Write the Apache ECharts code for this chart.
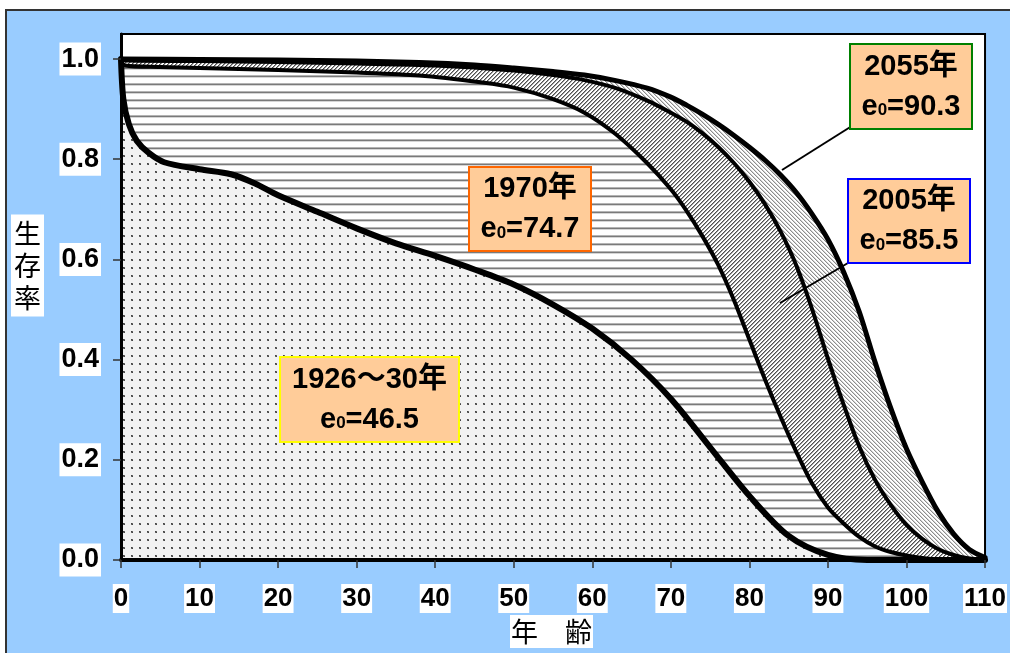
<!DOCTYPE html>
<html>
<head>
<meta charset="utf-8">
<script src="https://cdn.jsdelivr.net/npm/echarts@6/dist/echarts.min.js"></script>
<style>
  html, body { margin: 0; padding: 0; background: #fff; }
  #chart { width: 1010px; height: 653px; }
</style>
</head>
<body>
<div id="chart"></div>
<script>
// Survival curves (生存率 by 年齢) for four periods
const ages1926 = [0, 0.3, 1, 2, 3.5, 5.5, 10, 14, 17, 20, 25, 30, 35, 40, 45, 50, 55, 60, 65, 70, 75, 80, 85, 90, 95, 100, 110];
const surv1926 = [1.0, 0.92, 0.87, 0.837, 0.813, 0.794, 0.78, 0.77, 0.752, 0.728, 0.695, 0.662, 0.632, 0.607, 0.58, 0.55, 0.51, 0.462, 0.40, 0.322, 0.225, 0.128, 0.048, 0.01, 0.0, 0.0, 0.0];

const ages1970 = [0, 0.5, 5, 10, 20, 30, 38, 46, 50, 55, 59, 63, 67, 70, 72, 74, 76, 78, 80, 82, 84, 86, 88, 90, 92, 94, 96, 98, 100, 102, 105, 110];
const surv1970 = [1.0, 0.987, 0.984, 0.982, 0.978, 0.973, 0.967, 0.953, 0.943, 0.92, 0.893, 0.85, 0.792, 0.74, 0.697, 0.647, 0.59, 0.52, 0.44, 0.36, 0.285, 0.215, 0.152, 0.105, 0.073, 0.046, 0.027, 0.016, 0.009, 0.004, 0.0, 0.0];

const ages2005 = [0, 1, 10, 20, 30, 40, 50, 55, 59, 63, 67, 70, 72, 74, 76, 78, 80, 82, 84, 86, 88, 90, 92, 94, 96, 98, 100, 102, 104, 106, 108, 110];
const surv2005 = [1.0, 0.997, 0.996, 0.994, 0.991, 0.987, 0.977, 0.968, 0.958, 0.942, 0.917, 0.893, 0.875, 0.852, 0.825, 0.793, 0.755, 0.71, 0.655, 0.587, 0.5, 0.402, 0.31, 0.226, 0.16, 0.11, 0.07, 0.042, 0.022, 0.01, 0.003, 0.0];

const ages2055 = [0, 10, 20, 30, 38, 45, 50, 55, 59, 63, 67, 70, 72, 74, 76, 78, 80, 82, 84, 86, 88, 90, 92, 94, 96, 98, 100, 102, 104, 106, 108, 110];
const surv2055 = [1.0, 0.999, 0.998, 0.996, 0.993, 0.988, 0.982, 0.975, 0.968, 0.957, 0.942, 0.924, 0.908, 0.89, 0.87, 0.848, 0.824, 0.798, 0.768, 0.733, 0.69, 0.64, 0.575, 0.495, 0.395, 0.303, 0.222, 0.156, 0.097, 0.052, 0.021, 0.005];

// Period labels and life expectancy at birth (e0)
const periodNames = ['1926～30年', '1970年', '2005年', '2055年'];
const lifeExpectancy = ['46.5', '74.7', '85.5', '90.3'];

// Axis ticks
const xTickValues = [0, 10, 20, 30, 40, 50, 60, 70, 80, 90, 100, 110];
const yTickValues = [0, 0.2, 0.4, 0.6, 0.8, 1.0];

const LATIN = '"Liberation Sans", Arial, "Noto Sans CJK JP", sans-serif';
const CJK = '"Noto Sans CJK JP", sans-serif';

// ---- fill patterns ----
function tile(w, h, draw) {
  const c = document.createElement('canvas');
  c.width = w; c.height = h;
  draw(c.getContext('2d'), w, h);
  return c;
}
const dotPattern = tile(8, 8, (ctx, w, h) => {
  ctx.fillStyle = '#f2f2f2'; ctx.fillRect(0, 0, w, h);
  ctx.fillStyle = '#b0b0b0'; ctx.fillRect(3, 3, 2, 2);
  ctx.fillStyle = '#444'; ctx.fillRect(3, 3, 1, 1); ctx.fillRect(4, 4, 1, 1);
  ctx.fillStyle = '#666'; ctx.fillRect(4, 3, 1, 1); ctx.fillRect(3, 4, 1, 1);
});
const hLinePattern = tile(8, 8, (ctx, w, h) => {
  ctx.fillStyle = '#fff'; ctx.fillRect(0, 0, w, h);
  ctx.fillStyle = '#b4b4b4'; ctx.fillRect(0, 3, w, 1);
  ctx.fillStyle = '#7a7a7a'; ctx.fillRect(0, 4, w, 1);
  ctx.fillStyle = '#d6d6d6'; ctx.fillRect(0, 5, w, 1);
});
// 45° hatching; upward = "/" strokes, otherwise "\" strokes
function diagPattern(n, dark, mid, upward) {
  return tile(n, n, (ctx, w, h) => {
    ctx.fillStyle = '#fff'; ctx.fillRect(0, 0, w, h);
    for (let i = 0; i < n; i++) {
      const x = upward ? n - 1 - i : i;
      ctx.fillStyle = dark; ctx.fillRect(x, i, 1, 1);
      ctx.fillStyle = mid; ctx.fillRect((x + 1) % n, i, 1, 1);
    }
  });
}
const diagDark = diagPattern(4, '#505050', '#a0a0a0', true);
const diagLight = diagPattern(4, '#8c8c8c', '#d4d4d4', false);

function pairs(xs, ys) { return xs.map((x, i) => [x, ys[i]]); }

const cohorts = [
  { data: pairs(ages2055, surv2055), fill: diagLight, width: 5 },
  { data: pairs(ages2005, surv2005), fill: diagDark, width: 4 },
  { data: pairs(ages1970, surv1970), fill: hLinePattern, width: 4 },
  { data: pairs(ages1926, surv1926), fill: dotPattern, width: 6 }
];

const SMOOTH = 0.3;
const areaSeries = cohorts.map(c => ({
  type: 'line', data: c.data, smooth: SMOOTH, symbol: 'none', silent: true,
  lineStyle: { width: 0 },
  areaStyle: { color: { image: c.fill, repeat: 'repeat' }, opacity: 1 },
  z: 2, animation: false
}));
const lineSeries = cohorts.map(c => ({
  type: 'line', data: c.data, smooth: SMOOTH, symbol: 'none', silent: true,
  lineStyle: { color: '#000', width: c.width, cap: 'round', join: 'round' },
  z: 4, animation: false
}));

// ---- annotation boxes ----
const boxStyle = [
  { cx: 369.5, cy: 399.5, w: 179, h: 85, stroke: '#ffff00' },
  { cx: 530, cy: 209, w: 122, h: 84, stroke: '#ff6600' },
  { cx: 909, cy: 221, w: 122, h: 84, stroke: '#0000ff' },
  { cx: 911, cy: 86.5, w: 122, h: 85, stroke: '#008000' }
];
// the small "0" of e0 sits on the baseline: top padding pushes it down from the line middle
const richText = {
  a: { fontFamily: LATIN, fontSize: 29, fontWeight: 'bold', color: '#000', lineHeight: 40 },
  s: { fontFamily: LATIN, fontSize: 17, fontWeight: 'bold', color: '#000', padding: [8, 0, 0, 0] }
};
const boxes = [];
periodNames.forEach((name, i) => {
  const b = boxStyle[i];
  boxes.push({
    type: 'rect', z: 20,
    shape: { x: b.cx - b.w / 2, y: b.cy - b.h / 2, width: b.w, height: b.h },
    style: { fill: '#ffcc99', stroke: b.stroke, lineWidth: 2 }
  });
  boxes.push({
    type: 'text', z: 21, x: b.cx, y: b.cy,
    style: {
      text: '{a|' + name + '}\n{a|e}{s|0}{a|=' + lifeExpectancy[i] + '}',
      rich: richText, align: 'center', verticalAlign: 'middle'
    }
  });
});

const chart = echarts.init(document.getElementById('chart'), null, { renderer: 'canvas' });
chart.setOption({
  animation: false,
  backgroundColor: 'transparent',
  grid: { left: 121, right: 21, top: 34, bottom: 93, show: true, backgroundColor: '#fff', borderColor: '#000', borderWidth: 2 },
  xAxis: {
    type: 'value', min: 0, max: 110, interval: 10, z: 10,
    axisLine: { show: true, onZero: false, lineStyle: { color: '#000', width: 4 } },
    axisTick: { show: true, length: 8, lineStyle: { color: '#333', width: 1.5 } },
    splitLine: { show: false },
    axisLabel: {
      margin: 24, color: '#000', fontFamily: LATIN, fontSize: 26, fontWeight: 'bold',
      lineHeight: 26, backgroundColor: '#fff', padding: [2, 1, 1, 1]
    }
  },
  yAxis: {
    type: 'value', min: 0, max: 1.05, z: 10,
    axisLine: { show: true, lineStyle: { color: '#000', width: 3 } },
    axisTick: { show: true, length: 8, customValues: yTickValues, lineStyle: { color: '#333', width: 1.5 } },
    splitLine: { show: false },
    axisLabel: {
      customValues: yTickValues, formatter: v => v.toFixed(1),
      margin: 20, color: '#000', fontFamily: LATIN, fontSize: 27, fontWeight: 'bold',
      lineHeight: 28, backgroundColor: '#fff', padding: [3, 2, 2, 2]
    }
  },
  series: areaSeries.concat(lineSeries),
  graphic: [
    {
      type: 'rect', z: -10, silent: true,
      shape: { x: 6, y: 10, width: 1100, height: 700 },
      style: { fill: '#99ccff', stroke: '#333', lineWidth: 2 }
    },
    {
      type: 'text', z: 5, x: 27.5, y: 265.5,
      style: {
        text: '生\n存\n率', fontFamily: CJK, fontSize: 27, lineHeight: 32, fill: '#000',
        align: 'center', verticalAlign: 'middle', backgroundColor: '#fff', padding: [3, 3, 3, 3]
      }
    },
    {
      type: 'text', z: 5, x: 551.5, y: 631.5,
      style: {
        text: '年　齢', fontFamily: CJK, fontSize: 27, lineHeight: 31, fill: '#000',
        align: 'center', verticalAlign: 'middle', backgroundColor: '#fff', padding: [1, 1, 1, 1]
      }
    },
    { type: 'line', z: 19, shape: { x1: 863, y1: 119, x2: 782, y2: 170 }, style: { stroke: '#000', lineWidth: 2 } },
    { type: 'line', z: 19, shape: { x1: 865, y1: 253, x2: 780, y2: 303 }, style: { stroke: '#000', lineWidth: 2 } }
  ].concat(boxes)
});
</script>
</body>
</html>
